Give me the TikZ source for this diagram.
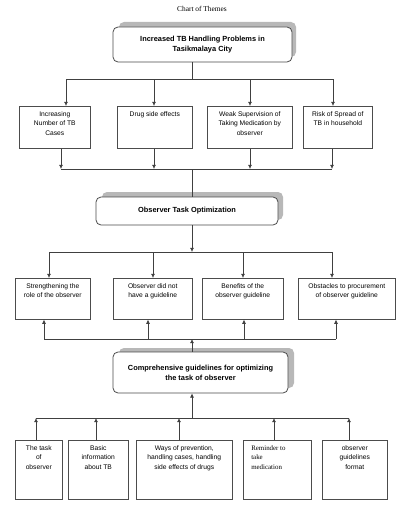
\documentclass[tikz,border=0pt]{standalone}
\usepackage{fontspec}
\setmainfont{Liberation Sans}
\newfontfamily\serifx{Liberation Serif}
\usetikzlibrary{arrows.meta}
\newcommand{\tb}[6]{\node[box] (#1) at (#2,#3) {\parbox[c][#5pt][t]{#4pt}{\vspace*{5.5pt}\centering #6\par}};}
\begin{document}
\begin{tikzpicture}[x=1pt,y=-1pt,
  every node/.style={font=\fontsize{6.7}{9.3}\selectfont},
  box/.style={draw=black!70, line width=0.6pt, anchor=north west, inner sep=0pt, fill=white},
  mainbox/.style={draw=black!70, rounded corners=5pt, line width=0.8pt, fill=white, inner sep=0pt,
     font=\bfseries\fontsize{7.4}{10}\selectfont, align=center},
  shadowbox/.style={fill=black!28, rounded corners=5pt},
  conn/.style={draw=black!75, line width=0.7pt},
  arr/.style={conn, -{Latex[length=4.2pt,width=4pt]}}]
\useasboundingbox (0,0) rectangle (412,519);
\fill[white] (0,0) rectangle (412,519);

\node (title) at (202,9) {\serifx\fontsize{7.4}{8}\selectfont Chart of Themes};

% main boxes with shadows
\fill[shadowbox] (119,22) rectangle (296,57);
\node[mainbox, minimum width=179pt, minimum height=35pt] (T1) at (202.5,44.5) {Increased TB Handling Problems in\\Tasikmalaya City};
\fill[shadowbox] (102,192) rectangle (283,220);
\node[mainbox, minimum width=182pt, minimum height=28pt] (T2) at (187,211) {Observer Task Optimization};
\fill[shadowbox] (119,348) rectangle (294,388);
\node[mainbox, minimum width=175pt, minimum height=41pt] (T3) at (200.5,372.5) {Comprehensive guidelines for optimizing\\the task of observer};

% row 2
\tb{A}{19}{106}{71}{42}{Increasing\\Number of TB\\Cases}
\tb{B}{117}{106}{75}{42}{Drug side effects}
\tb{C}{207}{106}{85}{42}{Weak Supervision of\\Taking Medication by\\observer}
\tb{D}{303}{106}{69}{42}{Risk of Spread of\\TB in household}
% row 3
\tb{E}{15}{278}{75}{41}{Strengthening the\\role of the observer}
\tb{F}{113}{278}{79}{41}{Observer did not\\have a guideline}
\tb{G}{202}{278}{81}{41}{Benefits of the\\observer guideline}
\tb{H}{298}{278}{97}{41}{Obstacles to procurement\\of observer guideline}
% row 4
\tb{I}{15}{440}{47}{59}{The task\\of\\observer}
\tb{J}{68}{440}{60}{59}{Basic\\information\\about TB}
\tb{K}{136}{440}{96}{59}{Ways of prevention,\\handling cases, handling\\side effects of drugs}
\node[box] (L) at (243,440) {\parbox[c][59pt][t]{68pt}{\vspace*{5.5pt}\hspace*{8pt}\serifx\fontsize{6.9}{9.3}\selectfont Reminder to\\\hspace*{8pt}take\\\hspace*{8pt}medication\par}};
\tb{M}{322}{440}{65}{59}{observer\\guidelines\\format}

% level 1 bus
\coordinate (j1) at (192,79);
\coordinate (j1a) at (66,79);
\coordinate (j1b) at (154,79);
\coordinate (j1c) at (250,79);
\coordinate (j1d) at (333,79);
\draw[conn] (T1.south -| j1) -- (j1);
\draw[conn] (j1a) -- (j1d);
\draw[arr] (j1a) -- (j1a |- A.north);
\draw[arr] (j1b) -- (j1b |- B.north);
\draw[arr] (j1c) -- (j1c |- C.north);
\draw[arr] (j1d) -- (j1d |- D.north);

% level 2 bus
\coordinate (j2) at (192,169);
\coordinate (j2a) at (61,169);
\coordinate (j2b) at (154,169);
\coordinate (j2c) at (250,169);
\coordinate (j2d) at (332,169);
\draw[arr] (A.south -| j2a) -- (j2a);
\draw[arr] (B.south -| j2b) -- (j2b);
\draw[arr] (C.south -| j2c) -- (j2c);
\draw[arr] (D.south -| j2d) -- (j2d);
\draw[conn] (j2a) -- (j2d);
\draw[conn] (j2) -- (j2 |- T2.north);

% level 3 bus
\coordinate (j3) at (192,252);
\coordinate (j3a) at (49,252);
\coordinate (j3b) at (153,252);
\coordinate (j3c) at (243,252);
\coordinate (j3d) at (332,252);
\draw[arr] (T2.south -| j3) -- (j3);
\draw[conn] (j3a) -- (j3d);
\draw[arr] (j3a) -- (j3a |- E.north);
\draw[arr] (j3b) -- (j3b |- F.north);
\draw[arr] (j3c) -- (j3c |- G.north);
\draw[arr] (j3d) -- (j3d |- H.north);

% level 4 bus
\coordinate (j4) at (192,339);
\coordinate (j4a) at (44,339);
\coordinate (j4b) at (148,339);
\coordinate (j4c) at (244,339);
\coordinate (j4d) at (336,339);
\draw[conn] (j4a) -- (j4d);
\draw[arr] (j4a) -- (j4a |- E.south);
\draw[arr] (j4b) -- (j4b |- F.south);
\draw[arr] (j4c) -- (j4c |- G.south);
\draw[arr] (j4d) -- (j4d |- H.south);
\draw[arr] (T3.north -| j4) -- (j4);

% level 5 bus
\coordinate (j5) at (192,418);
\coordinate (j5a) at (36,418);
\coordinate (j5b) at (96,418);
\coordinate (j5c) at (179,418);
\coordinate (j5d) at (274,418);
\coordinate (j5e) at (349,418);
\draw[conn] (j5a) -- (j5e);
\draw[arr] (j5) -- (j5 |- T3.south);
\draw[arr] (I.north -| j5a) -- (j5a);
\draw[arr] (J.north -| j5b) -- (j5b);
\draw[arr] (K.north -| j5c) -- (j5c);
\draw[arr] (L.north -| j5d) -- (j5d);
\draw[arr] (M.north -| j5e) -- (j5e);
\end{tikzpicture}
\end{document}
